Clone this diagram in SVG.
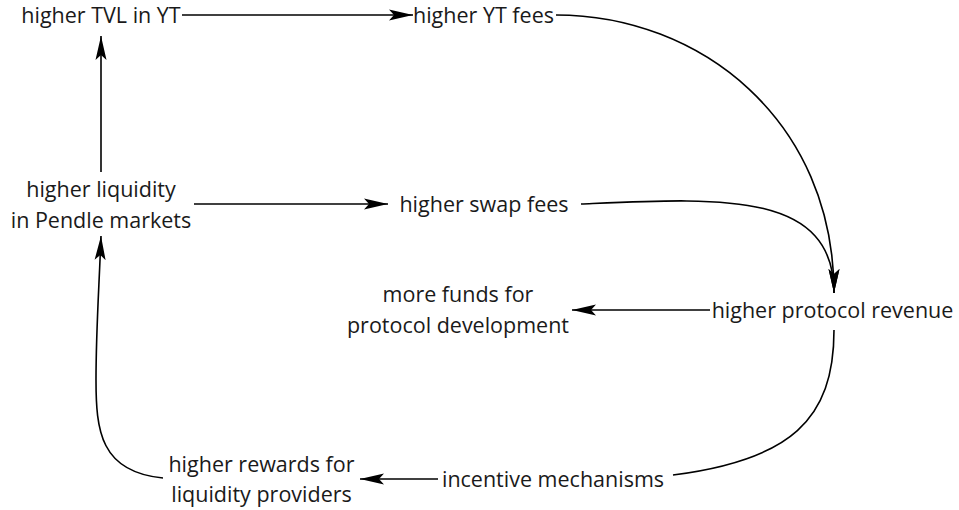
<svg xmlns="http://www.w3.org/2000/svg" width="959" height="510" viewBox="0 0 959 510">
<style>
text{font-family:"Open Sans","Noto Sans","Liberation Sans",sans-serif;font-size:21.5px;fill:#1a1a1a;text-anchor:middle}
.c{fill:none;stroke:#000;stroke-width:1.6}
</style>
<defs>
<marker id="ah" markerUnits="userSpaceOnUse" markerWidth="24" markerHeight="12" refX="24" refY="6" orient="auto" viewBox="0 0 24 12">
<path d="M0,0.5 L24,6 L0,11.5 L5,6 z" fill="#000"/>
</marker>
</defs>
<rect width="959" height="510" fill="#fff"/>
<g id="connectors">
<path class="c" d="M182,15 L413,15" marker-end="url(#ah)"/>
<path class="c" d="M556,15 C700,15 834,120 834,293" marker-end="url(#ah)"/>
<path class="c" d="M101,172 L101,36" marker-end="url(#ah)"/>
<path class="c" d="M194,204 L388,204" marker-end="url(#ah)"/>
<path class="c" d="M581,204 C720,198 834,190 834,293" marker-end="url(#ah)"/>
<path class="c" d="M710,310 L572,310" marker-end="url(#ah)"/>
<path class="c" d="M834,330 C834,420 790,460 673,475"/>
<path class="c" d="M438,479 L360,479" marker-end="url(#ah)"/>
<path class="c" d="M163,478 C100,472 96,430 96,380 C96,330 99,290 101,236" marker-end="url(#ah)"/>
</g>
<g id="tvl"><text x="101" y="23">higher TVL in YT</text></g>
<g id="ytfees"><text x="483.5" y="23">higher YT fees</text></g>
<g id="liquidity"><text x="101" y="197">higher liquidity</text><text x="101" y="228">in Pendle markets</text></g>
<g id="swapfees"><text x="484" y="212">higher swap fees</text></g>
<g id="revenue"><text x="832.5" y="318">higher protocol revenue</text></g>
<g id="funds"><text x="458" y="302">more funds for</text><text x="458" y="333">protocol development</text></g>
<g id="incentive"><text x="553" y="487">incentive mechanisms</text></g>
<g id="rewards"><text x="261.5" y="472">higher rewards for</text><text x="261.5" y="502">liquidity providers</text></g>
</svg>
